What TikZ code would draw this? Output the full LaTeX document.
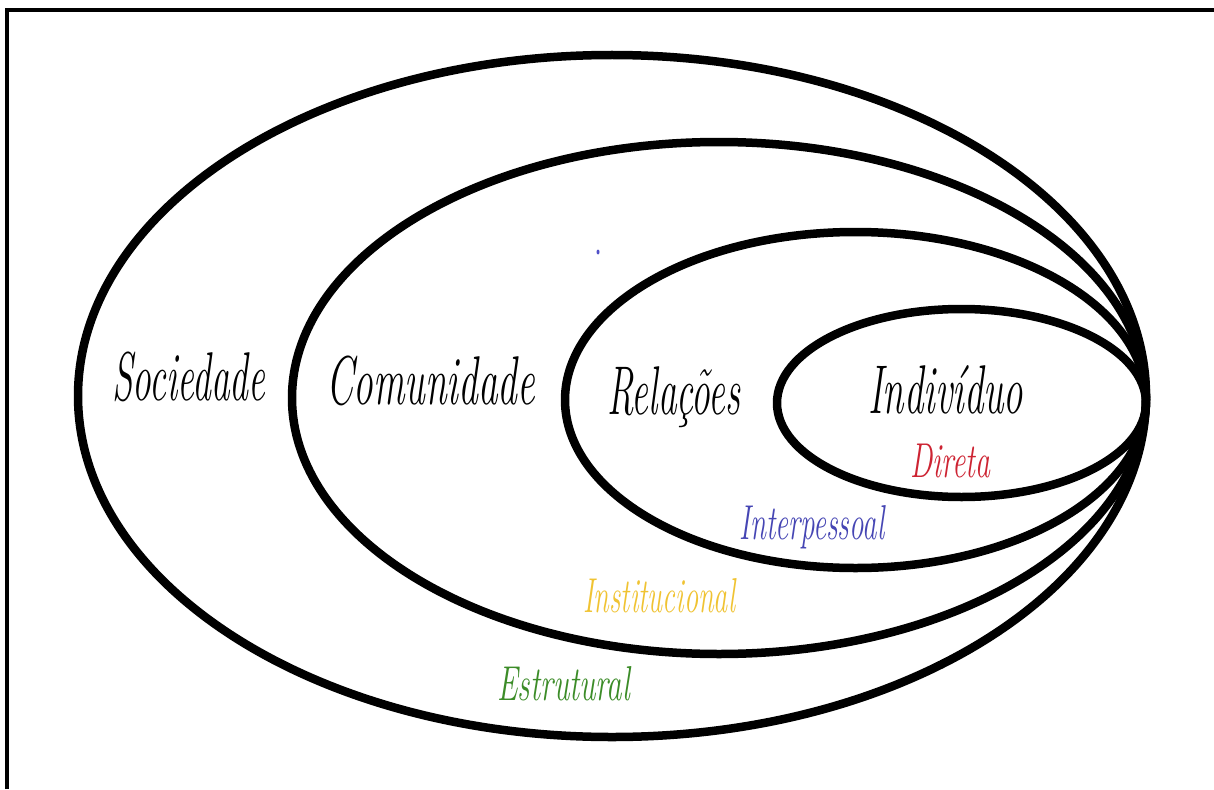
\documentclass[tikz,border=0pt]{standalone}
\usepackage{fontspec}
\usepackage{graphicx}

\definecolor{diretared}{RGB}{205,35,50}
\definecolor{interblue}{RGB}{70,70,180}
\definecolor{instyellow}{RGB}{240,195,50}
\definecolor{estrgreen}{RGB}{60,140,40}
\definecolor{dotblue}{RGB}{80,80,200}

% scale a label horizontally to a given width, keeping its height
\newcommand{\fitlabel}[2]{\resizebox{#1}{\height}{#2}}

\begin{document}
\begin{tikzpicture}[x=1pt, y=-1pt,
  ring/.style={draw=black, line width=8.5pt},
  biglabel/.style={anchor=base west, inner sep=0pt, text=black,
    font=\fontsize{69}{69}\selectfont\itshape},
  smalllabel/.style={anchor=base west, inner sep=0pt,
    font=\fontsize{49}{49}\selectfont\itshape}]

\useasboundingbox (0,0) rectangle (1214,789);
\fill[white] (0,0) rectangle (1214,789);

% frame lines along the top and left edges
\draw[line width=3.2pt] (7,789) -- (7,10) -- (1214,10);

% nested levels, all touching at the right
\draw[ring] (612,396) ellipse [x radius=534pt, y radius=341pt];
\draw[ring] (719,398) ellipse [x radius=427pt, y radius=256pt];
\draw[ring] (855.5,400) ellipse [x radius=290.5pt, y radius=168pt];
\draw[ring] (961.5,403) ellipse [x radius=184.5pt, y radius=94pt];

% level names
\node[biglabel] (soc) at (112,400) {\fitlabel{153pt}{Sociedade}};
\node[biglabel] (com) at (326,404) {\fitlabel{209pt}{Comunidade}};
\node[biglabel] (rel) at (607,414) {\fitlabel{133pt}{Relações}};
\node[biglabel] (ind) at (868,413) {\fitlabel{155pt}{Indivíduo}};

% kinds of relation
\node[smalllabel, text=diretared] (dir) at (910,477) {\fitlabel{80pt}{Direta}};
\node[smalllabel, text=interblue] (inter) at (739,539) {\fitlabel{145pt}{Interpessoal}};
\node[smalllabel, text=instyellow] (inst) at (583,612) {\fitlabel{152pt}{Institucional}};
\node[smalllabel, text=estrgreen] (estr) at (497,700) {\fitlabel{133pt}{Estrutural}};

% small blue speck
\fill[dotblue] (598,252) ellipse [x radius=1.5pt, y radius=2.5pt];

\end{tikzpicture}
\end{document}
